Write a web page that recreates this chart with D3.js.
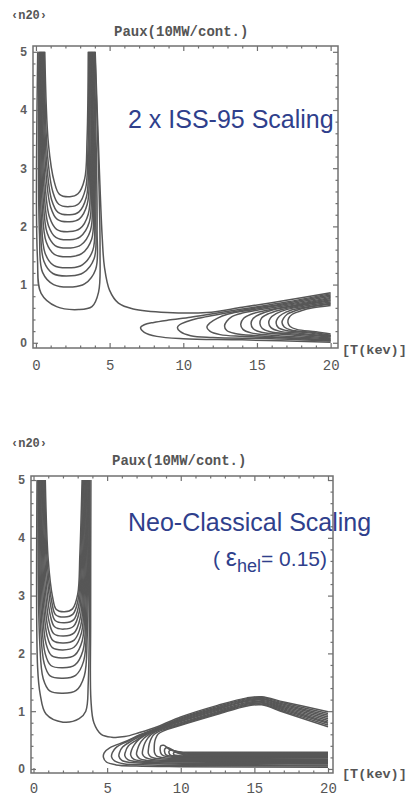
<!DOCTYPE html>
<html>
<head>
<meta charset="utf-8">
<script src="https://cdn.jsdelivr.net/npm/d3@7"></script>
<style>
  body { margin: 0; background: #ffffff; }
  svg { display: block; }
</style>
</head>
<body>
<svg id="chart" width="409" height="798"></svg>
<script>
// Axis tick values
const tempTicks = [0, 5, 10, 15, 20];
const densTicks = [0, 1, 2, 3, 4, 5];
const tempMinor = d3.range(0, 21, 1);
const densMinor = d3.range(0, 5.01, 0.2);

// ---- Upper panel: 2 x ISS-95 scaling; contours of Paux, 10 MW apart, points are [T keV, n20] ----
const issUContours = [
  [[0.60,5],[0.85,3.41],[1.25,2.76],[1.6,2.55],[2.3,2.51],[2.85,2.56],[3.30,2.81],[3.47,3.51],[3.55,5]],
  [[0.56,5],[0.78,3.24],[1.15,2.59],[1.55,2.38],[2.3,2.34],[2.9,2.39],[3.36,2.64],[3.53,3.34],[3.59,5]],
  [[0.52,5],[0.72,3.10],[1.07,2.45],[1.5,2.24],[2.3,2.20],[2.92,2.25],[3.42,2.50],[3.58,3.20],[3.63,5]],
  [[0.48,5],[0.66,2.98],[1.0,2.33],[1.45,2.12],[2.3,2.08],[2.95,2.13],[3.48,2.38],[3.63,3.08],[3.67,5]],
  [[0.44,5],[0.60,2.81],[0.92,2.16],[1.4,1.95],[2.3,1.91],[2.98,1.96],[3.55,2.21],[3.70,2.91],[3.71,5]],
  [[0.40,5],[0.54,2.67],[0.84,2.02],[1.35,1.81],[2.3,1.77],[3.0,1.82],[3.62,2.07],[3.76,2.77],[3.75,5]],
  [[0.36,5],[0.48,2.53],[0.77,1.88],[1.3,1.67],[2.35,1.63],[3.05,1.68],[3.70,1.93],[3.83,2.63],[3.79,5]],
  [[0.32,5],[0.42,2.38],[0.70,1.73],[1.25,1.52],[2.35,1.48],[3.1,1.53],[3.78,1.78],[3.90,2.48],[3.83,5]],
  [[0.28,5],[0.36,2.19],[0.62,1.54],[1.2,1.33],[2.4,1.29],[3.15,1.34],[3.86,1.59],[3.98,2.29],[3.87,5]],
  [[0.24,5],[0.30,2.05],[0.54,1.40],[1.15,1.19],[2.4,1.15],[3.2,1.20],[3.95,1.45],[4.06,2.15],[3.91,5]],
  [[0.20,5],[0.24,1.86],[0.45,1.21],[1.2,1.00],[2.5,0.96],[3.3,1.01],[4.05,1.26],[4.15,1.96],[3.95,5]],
  [[0.12,5],[0.10,1.47],[0.35,0.85],[1.4,0.62],[2.9,0.57],[3.8,0.62],[4.25,0.87],[4.35,1.57],[4.0,5]]
];
const issLongContour = [[4.02,5],[4.3,3.0],[4.5,1.8],[4.65,1.3],[5.0,0.9],[5.6,0.68],[6.6,0.58],[8.9,0.52],[11.6,0.52],[14,0.61],[17,0.73],[20,0.86]];
const issLobeContours = [
  [[20,0.84],[17,0.70],[14,0.58],[12,0.50],[10.5,0.44],[9,0.39],[8,0.35],[7.35,0.31],[7.1,0.26],[7.35,0.18],[8.2,0.11],[10,0.07],[14,0.05],[20,0.01]],
  [[20,0.82],[17,0.68],[14,0.56],[12,0.47],[11,0.42],[10.2,0.36],[9.75,0.31],[9.6,0.26],[9.8,0.19],[10.5,0.12],[12,0.09],[16,0.07],[20,0.03]],
  [[20,0.80],[17,0.66],[14,0.54],[13,0.49],[12.3,0.42],[11.8,0.34],[11.6,0.27],[11.8,0.2],[12.5,0.14],[14,0.11],[17,0.08],[20,0.04]],
  [[20,0.78],[17,0.64],[15,0.56],[14,0.51],[13.3,0.45],[12.95,0.37],[12.8,0.29],[12.95,0.21],[13.5,0.16],[15,0.12],[20,0.05]],
  [[20,0.76],[17,0.62],[15.5,0.55],[14.6,0.49],[14.1,0.42],[13.9,0.32],[14.05,0.23],[14.6,0.17],[16,0.13],[20,0.07]],
  [[20,0.74],[17,0.61],[16,0.56],[15.2,0.49],[14.75,0.42],[14.6,0.33],[14.75,0.24],[15.3,0.18],[17,0.14],[20,0.08]],
  [[20,0.72],[18,0.64],[16.5,0.56],[15.7,0.49],[15.3,0.42],[15.2,0.33],[15.35,0.25],[15.9,0.19],[17.5,0.15],[20,0.10]],
  [[20,0.70],[18,0.62],[17,0.57],[16.3,0.5],[15.9,0.42],[15.8,0.34],[15.95,0.26],[16.5,0.2],[18,0.16],[20,0.11]],
  [[20,0.68],[18.5,0.62],[17.3,0.56],[16.7,0.49],[16.4,0.42],[16.3,0.34],[16.45,0.26],[17,0.21],[18.5,0.17],[20,0.12]],
  [[20,0.66],[18.5,0.61],[17.6,0.55],[17.05,0.49],[16.8,0.42],[16.7,0.35],[16.85,0.27],[17.3,0.22],[18.7,0.18],[20,0.13]],
  [[20,0.64],[18.8,0.6],[18,0.55],[17.4,0.49],[17.15,0.42],[17.1,0.35],[17.25,0.28],[17.7,0.23],[19,0.19],[20,0.15]]
];

// ---- Lower panel: neo-classical scaling (eps_hel = 0.15) ----
const neoUContours = [
  [[0.80,5],[1.0,3.62],[1.3,2.97],[1.55,2.76],[2.1,2.72],[2.65,2.77],[3.0,3.02],[3.15,3.72],[3.30,5]],
  [[0.75,5],[0.95,3.53],[1.25,2.88],[1.5,2.67],[2.1,2.63],[2.68,2.68],[3.03,2.93],[3.2,3.63],[3.35,5]],
  [[0.70,5],[0.9,3.43],[1.2,2.78],[1.47,2.57],[2.1,2.53],[2.72,2.58],[3.07,2.83],[3.25,3.53],[3.40,5]],
  [[0.65,5],[0.84,3.32],[1.13,2.67],[1.43,2.46],[2.05,2.42],[2.72,2.47],[3.11,2.72],[3.3,3.42],[3.45,5]],
  [[0.60,5],[0.78,3.20],[1.06,2.55],[1.38,2.34],[2.05,2.30],[2.74,2.35],[3.16,2.60],[3.35,3.30],[3.50,5]],
  [[0.55,5],[0.72,3.08],[0.99,2.43],[1.33,2.22],[2.05,2.18],[2.76,2.23],[3.21,2.48],[3.4,3.18],[3.55,5]],
  [[0.50,5],[0.66,2.96],[0.92,2.31],[1.28,2.10],[2.0,2.06],[2.77,2.11],[3.26,2.36],[3.45,3.06],[3.60,5]],
  [[0.45,5],[0.60,2.82],[0.85,2.17],[1.23,1.96],[2.0,1.92],[2.8,1.97],[3.31,2.22],[3.5,2.92],[3.65,5]],
  [[0.40,5],[0.54,2.65],[0.79,2.00],[1.18,1.79],[2.0,1.75],[2.82,1.80],[3.36,2.05],[3.55,2.75],[3.70,5]],
  [[0.35,5],[0.48,2.47],[0.73,1.82],[1.13,1.61],[2.0,1.57],[2.86,1.62],[3.41,1.87],[3.6,2.57],[3.74,5]],
  [[0.30,5],[0.42,2.21],[0.66,1.56],[1.1,1.35],[2.0,1.31],[2.9,1.36],[3.45,1.61],[3.65,2.31],[3.78,5]],
  [[0.24,5],[0.28,1.75],[0.45,1.3],[0.85,0.95],[2.0,0.81],[3.1,0.87],[3.55,1.0],[3.72,1.5],[3.82,5]]
];
const neoLongContour = [[3.9,5],[3.88,2.5],[3.9,1.2],[4.1,0.8],[4.6,0.6],[5.3,0.55],[6.2,0.56],[7.2,0.63],[8.5,0.74],[10,0.9],[12.5,1.1],[14.5,1.23],[15.5,1.25],[17,1.16],[20,0.99]];
const neoHumpContours = [
  [[20,0.96],[17,1.14],[15.5,1.235],[14.5,1.215],[12.5,1.08],[10,0.88],[8.5,0.72],[7.3,0.6],[6.2,0.47],[5.2,0.37],[4.8,0.28],[4.75,0.2],[4.95,0.12],[5.6,0.07],[7,0.05],[10,0.04],[20,0.03]],
  [[20,0.93],[17,1.12],[15.5,1.22],[14.5,1.2],[12.5,1.06],[10,0.865],[8.5,0.713],[7.4,0.6],[6.4,0.48],[5.6,0.37],[5.35,0.28],[5.3,0.21],[5.5,0.14],[6.1,0.09],[8,0.07],[12,0.06],[20,0.05]],
  [[20,0.90],[17,1.10],[15.5,1.205],[14.5,1.185],[12.5,1.045],[10,0.85],[8.5,0.706],[7.5,0.6],[6.7,0.49],[6.05,0.38],[5.85,0.29],[5.8,0.22],[6.0,0.15],[6.6,0.11],[8.5,0.09],[20,0.07]],
  [[20,0.87],[17,1.08],[15.5,1.19],[14.5,1.17],[12.5,1.03],[10,0.835],[8.5,0.7],[7.6,0.6],[7.0,0.5],[6.45,0.4],[6.25,0.3],[6.2,0.23],[6.4,0.16],[7.0,0.125],[9,0.105],[20,0.09]],
  [[20,0.84],[17,1.06],[15.5,1.17],[14.5,1.15],[12.5,1.01],[10,0.82],[8.5,0.69],[7.7,0.6],[7.2,0.52],[6.85,0.42],[6.65,0.32],[6.6,0.24],[6.8,0.17],[7.4,0.135],[9.5,0.12],[20,0.11]],
  [[20,0.81],[17,1.04],[15.5,1.155],[14.5,1.135],[12.5,0.99],[10,0.80],[8.5,0.68],[7.85,0.6],[7.5,0.53],[7.2,0.43],[7.05,0.33],[7.0,0.25],[7.2,0.18],[7.8,0.145],[10,0.13],[20,0.13]],
  [[20,0.79],[17,1.02],[15.5,1.14],[14.5,1.12],[12.5,0.975],[10,0.785],[8.5,0.67],[8.0,0.6],[7.75,0.53],[7.55,0.44],[7.43,0.34],[7.4,0.26],[7.58,0.2],[8.2,0.16],[10.5,0.15],[20,0.15]],
  [[20,0.76],[17,1.0],[15.5,1.125],[14.5,1.105],[12.5,0.96],[10,0.77],[8.6,0.66],[8.2,0.6],[8.0,0.53],[7.87,0.44],[7.81,0.35],[7.8,0.27],[7.97,0.21],[8.6,0.175],[11,0.17],[20,0.17]],
  [[20,0.73],[17,0.98],[15.5,1.11],[14.5,1.09],[12.5,0.945],[10,0.755],[8.8,0.655],[8.45,0.6],[8.3,0.53],[8.22,0.45],[8.2,0.36],[8.22,0.28],[8.37,0.22],[9,0.19],[11.5,0.185],[20,0.19]]
];
const neoFlatContours = [
  [[20,0.29],[12,0.29],[10,0.295],[9.3,0.33],[8.85,0.41],[8.65,0.4],[8.6,0.33],[8.7,0.25],[9.1,0.21],[11,0.2],[20,0.2]],
  [[20,0.27],[12,0.27],[10.3,0.275],[9.6,0.31],[9.1,0.37],[8.93,0.35],[8.9,0.3],[9.0,0.245],[9.4,0.22],[11.5,0.21],[20,0.21]],
  [[20,0.25],[12,0.25],[10.5,0.255],[9.85,0.28],[9.35,0.33],[9.21,0.31],[9.2,0.28],[9.3,0.24],[9.7,0.225],[12,0.22],[20,0.22]],
  [[20,0.235],[12,0.235],[10.7,0.24],[10,0.26],[9.6,0.29],[9.5,0.27],[9.55,0.245],[9.9,0.23],[12,0.228],[20,0.228]]
];

const svg = d3.select('#chart');
const lineColor = '#575757';
const frameColor = '#707070';
const monoFont = '"Liberation Mono", "DejaVu Sans Mono", monospace';
const sansFont = '"Liberation Sans", Arial, sans-serif';
const blue = '#2f3f8c';

function drawPanel(cfg) {
  const g = svg.append('g');
  const x = d3.scaleLinear().domain(cfg.tDomain).range([cfg.left, cfg.right]);
  const y = d3.scaleLinear().domain(cfg.nDomain).range([cfg.bottom, cfg.top]);

  const clipId = 'clip-' + cfg.id;
  g.append('clipPath').attr('id', clipId)
    .append('rect').attr('x', cfg.left).attr('y', cfg.top)
    .attr('width', cfg.right - cfg.left).attr('height', cfg.bottom - cfg.top);

  const line = d3.line()
    .x(d => x(d[0])).y(d => y(d[1]))
    .curve(d3.curveCatmullRom.alpha(0.5));

  const lines = g.append('g').attr('clip-path', `url(#${clipId})`)
    .attr('fill', 'none').attr('stroke', lineColor)
    .attr('stroke-width', 1.5).attr('stroke-linejoin', 'round');
  cfg.contours.forEach(c => lines.append('path').attr('d', line(c)));

  // frame
  g.append('rect').attr('x', cfg.left).attr('y', cfg.top)
    .attr('width', cfg.right - cfg.left).attr('height', cfg.bottom - cfg.top)
    .attr('fill', 'none').attr('stroke', frameColor).attr('stroke-width', 1.5);

  // ticks on all four sides, pointing inward
  const sides = [
    {ax: () => d3.axisBottom(x), tr: `translate(0,${cfg.bottom})`, vals: tempMinor, major: tempTicks},
    {ax: () => d3.axisTop(x), tr: `translate(0,${cfg.top})`, vals: tempMinor, major: tempTicks},
    {ax: () => d3.axisLeft(y), tr: `translate(${cfg.left},0)`, vals: densMinor, major: densTicks},
    {ax: () => d3.axisRight(y), tr: `translate(${cfg.right},0)`, vals: densMinor, major: densTicks}
  ];
  sides.forEach(s => {
    const minorVals = s.vals.filter(v => !s.major.some(m => Math.abs(m - v) < 1e-6));
    const ga = g.append('g').attr('transform', s.tr)
      .call(s.ax().tickValues(minorVals).tickSize(-2.5).tickFormat(''));
    ga.select('.domain').remove();
    ga.selectAll('line').attr('stroke', frameColor).attr('stroke-width', 1.2);
    const gb = g.append('g').attr('transform', s.tr)
      .call(s.ax().tickValues(s.major).tickSize(-5).tickFormat(''));
    gb.select('.domain').remove();
    gb.selectAll('line').attr('stroke', frameColor).attr('stroke-width', 1.2);
  });

  // tick labels
  const yl = g.append('g').attr('transform', `translate(${cfg.left},0)`)
    .call(d3.axisLeft(y).tickValues(densTicks).tickSize(0).tickPadding(6).tickFormat(d3.format('d')));
  yl.select('.domain').remove();
  yl.selectAll('text').attr('font-family', sansFont).attr('font-weight', 'bold')
    .attr('font-size', 12).attr('fill', '#5e5e5e');

  const xl = g.append('g').attr('transform', `translate(0,${cfg.bottom})`)
    .call(d3.axisBottom(x).tickValues(tempTicks).tickSize(0).tickPadding(cfg.xLabelPad).tickFormat(d3.format('d')));
  xl.select('.domain').remove();
  xl.selectAll('text').attr('font-family', monoFont).attr('font-size', 14).attr('fill', '#555');

  // labels
  g.append('text').attr('x', cfg.nLabel[0]).attr('y', cfg.nLabel[1])
    .attr('font-family', monoFont).attr('font-weight', 'bold').attr('font-size', 12)
    .attr('fill', '#555').text('‹n20›');
  g.append('text').attr('x', cfg.pLabel[0]).attr('y', cfg.pLabel[1])
    .attr('font-family', monoFont).attr('font-weight', 'bold').attr('font-size', 14)
    .attr('fill', '#555').text('Paux(10MW/cont.)');
  g.append('text').attr('x', cfg.tLabel[0]).attr('y', cfg.tLabel[1])
    .attr('font-family', monoFont).attr('font-weight', 'bold').attr('font-size', 13.5)
    .attr('fill', '#555').text('[T(kev)]');
  return g;
}

const issPanel = drawPanel({
  id: 'iss', tDomain: [-0.2, 20.5], nDomain: [-0.09, 5.1],
  left: 33, right: 338, top: 46, bottom: 348, xLabelPad: 12,
  nLabel: [11, 19], pLabel: [114, 36], tLabel: [342, 354],
  contours: [...issUContours, issLongContour, ...issLobeContours]
});
issPanel.append('text').attr('x', 128).attr('y', 128)
  .attr('font-family', sansFont).attr('font-size', 25).attr('fill', blue)
  .text('2 x ISS-95 Scaling');

const neoPanel = drawPanel({
  id: 'neo', tDomain: [-0.17, 20.34], nDomain: [-0.07, 5.07],
  left: 31, right: 333, top: 476, bottom: 773, xLabelPad: 10,
  nLabel: [11, 447], pLabel: [112, 465], tLabel: [342, 778],
  contours: [...neoUContours, neoLongContour, ...neoHumpContours, ...neoFlatContours]
});
neoPanel.append('text').attr('x', 128).attr('y', 531)
  .attr('font-family', sansFont).attr('font-size', 25).attr('fill', blue)
  .text('Neo-Classical Scaling');
const eps = neoPanel.append('text').attr('x', 213).attr('y', 566)
  .attr('font-family', sansFont).attr('font-size', 21).attr('fill', blue);
eps.append('tspan').text('( ');
eps.append('tspan').attr('font-size', 25).text('ε');
eps.append('tspan').attr('font-size', 18).attr('dy', 6).text('hel');
eps.append('tspan').attr('dy', -6).text('= 0.15)');
</script>
</body>
</html>
